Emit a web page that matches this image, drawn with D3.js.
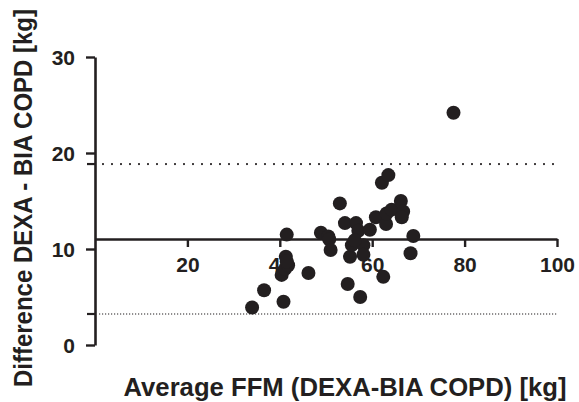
<!DOCTYPE html>
<html>
<head>
<meta charset="utf-8">
<script src="https://cdn.jsdelivr.net/npm/d3@7"></script>
<style>
  html, body { margin: 0; padding: 0; background: #fff; }
  text { font-family: "Liberation Sans", Arial, Helvetica, sans-serif; font-weight: bold; fill: #231f20; }
</style>
</head>
<body>
<svg id="chart" width="579" height="402"></svg>
<script>
// Bland-Altman data: average FFM vs difference (DEXA - BIA)
const avgFFM = [34.0, 36.6, 40.8, 40.4, 41.1, 41.8, 41.3, 41.5, 41.5, 46.2,
                48.9, 50.5, 50.7, 51.0, 53.0, 54.1, 54.7, 55.2, 55.6, 56.5,
                57.0, 57.4, 58.1, 58.1, 59.5, 60.8, 62.1, 63.5, 62.4, 63.0,
                63.1, 64.2, 66.2, 66.7, 66.4, 68.9, 68.3, 77.6, 56.2];
const diff   = [3.9, 5.7, 4.5, 7.3, 7.9, 8.3, 9.2, 8.7, 11.5, 7.5,
                11.7, 11.3, 11.0, 9.9, 14.75, 12.7, 6.35, 9.2, 10.4, 12.7,
                11.9, 5.0, 10.4, 9.4, 12.0, 13.3, 16.9, 17.7, 7.1, 12.6,
                13.7, 14.1, 15.0, 13.9, 13.3, 11.35, 9.55, 24.2, 10.9];

const meanDiff = 11.04;
const upperLoA = 18.85;
const lowerLoA = 3.23;

const xTicks = [20, 40, 60, 80, 100];
const yTicks = [0, 10, 20, 30];

const ink = '#231f20';
const svg = d3.select('#chart');

const x = d3.scaleLinear().domain([0, 100]).range([95, 557]);
const y = d3.scaleLinear().domain([0, 30]).range([345, 57]);

function styleTicks(g) {
  g.selectAll('.tick text').attr('font-size', 21).attr('fill', ink)
    .style('font-family', '"Liberation Sans", Arial, sans-serif').style('font-weight', 'bold');
}

// Y axis
const yAxis = svg.append('g').attr('transform', `translate(${x(0)},0)`)
  .call(d3.axisLeft(y).tickValues(yTicks).tickSize(9).tickSizeOuter(0).tickPadding(11));
yAxis.select('.domain').attr('stroke', ink).attr('stroke-width', 2.6);
yAxis.selectAll('.tick line').attr('stroke', ink).attr('stroke-width', 2.4);
styleTicks(yAxis);
yAxis.selectAll('.tick text').attr('dy', '0.36em');

// extra y ticks at limits of agreement
svg.selectAll('.loa-tick').data([upperLoA, lowerLoA]).join('line')
  .attr('class', 'loa-tick')
  .attr('x1', x(0) - 8).attr('x2', x(0))
  .attr('y1', d => y(d)).attr('y2', d => y(d))
  .attr('stroke', ink).attr('stroke-width', 2.2);

// limits of agreement (dotted)
svg.append('line')
  .attr('x1', x(0) + 8).attr('x2', x(100))
  .attr('y1', y(upperLoA)).attr('y2', y(upperLoA))
  .attr('stroke', ink).attr('stroke-width', 2.2)
  .attr('stroke-linecap', 'round').attr('stroke-dasharray', '0,9');
svg.append('line')
  .attr('x1', x(0) + 4).attr('x2', x(100))
  .attr('y1', y(lowerLoA)).attr('y2', y(lowerLoA))
  .attr('stroke', ink).attr('stroke-width', 1.2)
  .attr('stroke-dasharray', '1.2,1.8');

// X axis drawn along the mean difference
const xAxis = svg.append('g').attr('transform', `translate(0,${y(meanDiff)})`)
  .call(d3.axisBottom(x).tickValues(xTicks).tickSize(8).tickSizeOuter(0).tickPadding(10));
xAxis.select('.domain').attr('stroke', ink).attr('stroke-width', 2.6);
xAxis.selectAll('.tick line').attr('stroke', ink).attr('stroke-width', 2.4);
styleTicks(xAxis);

// points
svg.selectAll('.dot').data(avgFFM.map((v, i) => [v, diff[i]])).join('circle')
  .attr('class', 'dot')
  .attr('cx', d => x(d[0])).attr('cy', d => y(d[1]))
  .attr('r', 7).attr('fill', ink);

// axis titles
svg.append('text')
  .attr('transform', 'translate(32,198) rotate(-90) scale(1,1.04)')
  .attr('text-anchor', 'middle').attr('font-size', 24)
  .text('Difference DEXA - BIA COPD [kg]');
svg.append('text')
  .attr('x', 345).attr('y', 396)
  .attr('text-anchor', 'middle').attr('font-size', 25)
  .attr('textLength', 443).attr('lengthAdjust', 'spacingAndGlyphs')
  .text('Average FFM (DEXA-BIA COPD) [kg]');
</script>
</body>
</html>
